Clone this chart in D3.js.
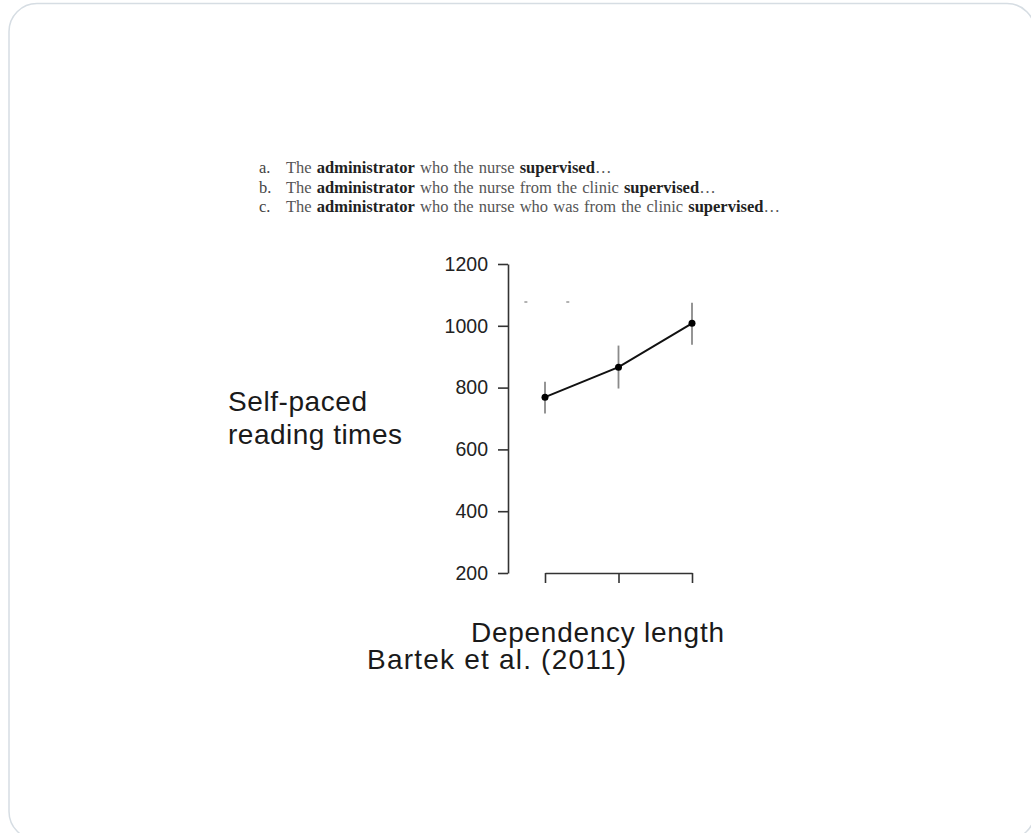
<!DOCTYPE html>
<html>
<head>
<meta charset="utf-8">
<script src="https://cdn.jsdelivr.net/npm/d3@7"></script>
<style>
  html, body { margin: 0; padding: 0; background: #fff; }
  svg { display: block; }
</style>
</head>
<body>
<div id="chart"></div>
<script>
// Data
var conditions = [1, 2, 3];                 // a, b, c (dependency length)
var meanRT = [769, 866, 1008];
var lowerRT = [716, 797, 939];
var upperRT = [819, 936, 1075];
var yTicks = [200, 400, 600, 800, 1000, 1200];
var strayMarks = [[0.74, 1077], [1.31, 1077]];  // two tiny dashes in the source figure

var sentenceLabels = ["a.", "b.", "c."];
var sentences = [
    [["The ", false], ["administrator", true], [" who the nurse ", false], ["supervised", true], ["\u2026", false]],
    [["The ", false], ["administrator", true], [" who the nurse from the clinic ", false], ["supervised", true], ["\u2026", false]],
    [["The ", false], ["administrator", true], [" who the nurse who was from the clinic ", false], ["supervised", true], ["\u2026", false]]
];

var width = 1031, height = 833;

var svg = d3.select("#chart").append("svg")
    .attr("width", width)
    .attr("height", height);

// Slide frame
svg.append("rect")
    .attr("x", 9).attr("y", 3.5)
    .attr("width", 1026).attr("height", 836)
    .attr("rx", 28).attr("ry", 28)
    .attr("fill", "none")
    .attr("stroke", "#d6dde3")
    .attr("stroke-width", 1.5);

// Example sentences
var sent = svg.append("g")
    .attr("font-family", "'Liberation Serif', 'Times New Roman', serif")
    .attr("font-size", 16.5)
    .attr("word-spacing", 1);

sentences.forEach(function(parts, i) {
    var yy = 173 + i * 19.5;
    sent.append("text")
        .attr("x", 259).attr("y", yy)
        .attr("fill", "#444")
        .text(sentenceLabels[i]);
    var t = sent.append("text")
        .attr("x", 286).attr("y", yy)
        .attr("fill", "#555");
    parts.forEach(function(p) {
        t.append("tspan")
            .attr("font-weight", p[1] ? "bold" : "normal")
            .attr("fill", p[1] ? "#222" : "#555")
            .text(p[0]);
    });
});

// Scales
var y = d3.scaleLinear().domain([200, 1200]).range([573, 264]);
var x = d3.scaleLinear().domain([1, 3]).range([545, 692]);

// Y axis (R style)
var yAxis = svg.append("g")
    .attr("transform", "translate(508,0)")
    .call(d3.axisLeft(y).tickValues(yTicks).tickSize(10).tickSizeOuter(0).tickPadding(10).tickFormat(d3.format("d")));
yAxis.selectAll("text")
    .attr("font-family", "'Liberation Sans', Arial, Helvetica, sans-serif")
    .attr("font-size", 19.5)
    .attr("fill", "#222");
yAxis.selectAll("line, path").attr("stroke", "#333").attr("stroke-width", 1.6);

// X axis
var xAxis = svg.append("g")
    .attr("transform", "translate(0,573)")
    .call(d3.axisBottom(x).tickValues(conditions).tickSize(10).tickSizeOuter(0).tickFormat(""));
xAxis.selectAll("line, path").attr("stroke", "#333").attr("stroke-width", 1.6);

// Stray marks
svg.selectAll(".stray").data(strayMarks).enter().append("line")
    .attr("class", "stray")
    .attr("x1", function(d) { return x(d[0]) - 1.5; })
    .attr("x2", function(d) { return x(d[0]) + 1.5; })
    .attr("y1", function(d) { return y(d[1]); })
    .attr("y2", function(d) { return y(d[1]); })
    .attr("stroke", "#666")
    .attr("stroke-width", 1);

// Error bars
svg.selectAll(".err").data(conditions).enter().append("line")
    .attr("class", "err")
    .attr("x1", function(d) { return x(d); })
    .attr("x2", function(d) { return x(d); })
    .attr("y1", function(d, i) { return y(lowerRT[i]); })
    .attr("y2", function(d, i) { return y(upperRT[i]); })
    .attr("stroke", "#8a8a8a")
    .attr("stroke-width", 1.8);

// Mean line
var line = d3.line()
    .x(function(d) { return x(d); })
    .y(function(d, i) { return y(meanRT[i]); });

svg.append("path")
    .datum(conditions)
    .attr("d", line)
    .attr("fill", "none")
    .attr("stroke", "#111")
    .attr("stroke-width", 2);

svg.selectAll(".pt").data(conditions).enter().append("circle")
    .attr("class", "pt")
    .attr("cx", function(d) { return x(d); })
    .attr("cy", function(d, i) { return y(meanRT[i]); })
    .attr("r", 3.5)
    .attr("fill", "#000");

// Slide labels
var lab = svg.append("g")
    .attr("font-family", "'Liberation Sans', Arial, Helvetica, sans-serif")
    .attr("font-size", 28)
    .attr("fill", "#1a1a1a");

lab.append("text").attr("x", 228).attr("y", 411).attr("textLength", 139).attr("lengthAdjust", "spacing").text("Self-paced");
lab.append("text").attr("x", 228).attr("y", 444).attr("textLength", 174).attr("lengthAdjust", "spacing").text("reading times");
lab.append("text").attr("x", 471).attr("y", 642).attr("textLength", 253).attr("lengthAdjust", "spacing").text("Dependency length");
lab.append("text").attr("x", 367).attr("y", 669).attr("textLength", 259).attr("lengthAdjust", "spacing").text("Bartek et al. (2011)");
</script>
</body>
</html>
